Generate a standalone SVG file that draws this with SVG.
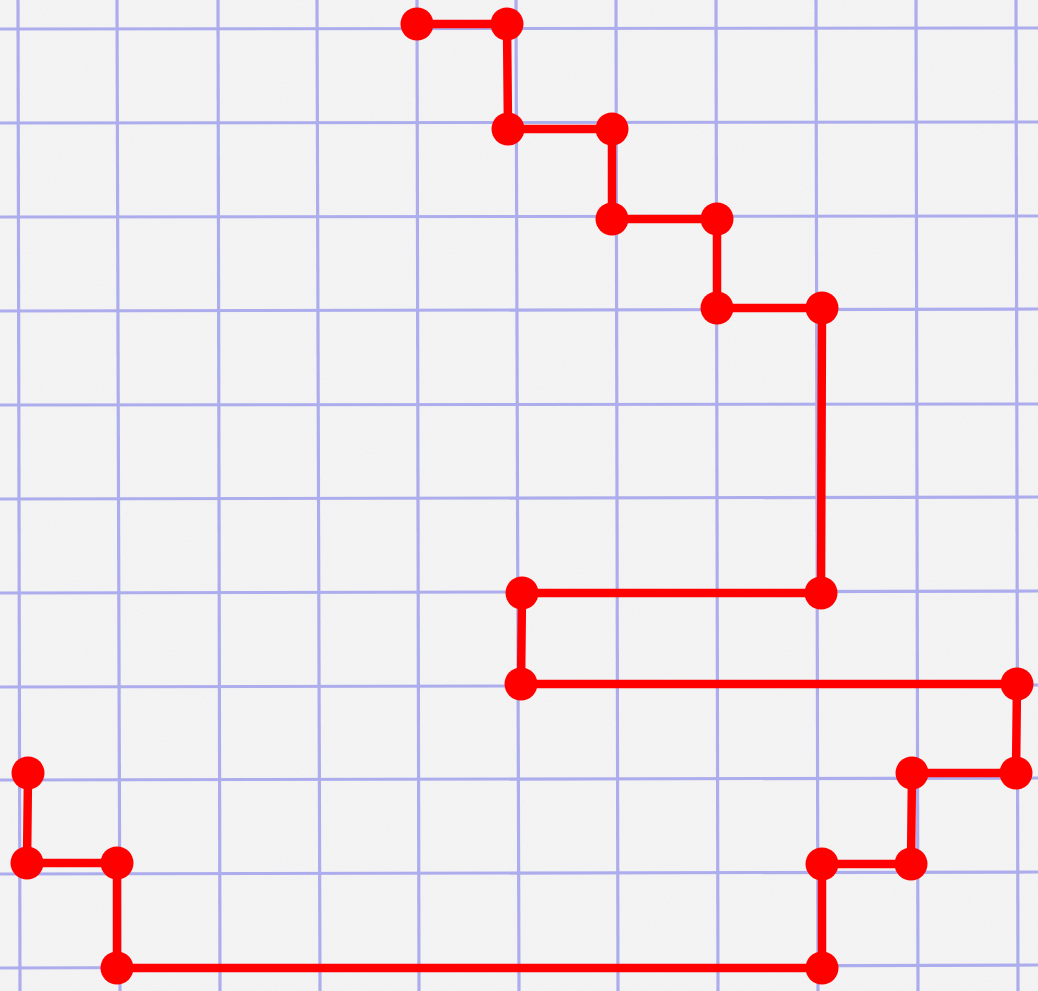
<svg xmlns="http://www.w3.org/2000/svg" width="1038" height="991" viewBox="0 0 1038 991">
  <defs>
    <filter id="paper" x="0" y="0" width="100%" height="100%">
      <feTurbulence type="fractalNoise" baseFrequency="0.6" numOctaves="2" seed="3" result="n"/>
      <feColorMatrix in="n" type="matrix" values="0 0 0 0 0.55  0 0 0 0 0.55  0 0 0 0 0.58  0 0 0 0.10 0"/>
    </filter>
    <filter id="soft" x="-1%" y="-1%" width="102%" height="102%">
      <feGaussianBlur stdDeviation="0.6"/>
    </filter>
  </defs>
  <style>
    .grid line { stroke: #adadee; stroke-width: 3.2; }
    .path { fill: none; stroke: #ff0000; stroke-width: 8.5; stroke-linejoin: round; }
    .dot { fill: #ff0000; }
  </style>
  <rect width="1038" height="991" fill="#f5f5f6"/>
  <rect width="1038" height="991" filter="url(#paper)"/>
  <g class="grid" id="grid" filter="url(#soft)">
    <line x1="18" y1="0" x2="20" y2="991"/>
    <line x1="117" y1="0" x2="120" y2="991"/>
    <line x1="218" y1="0" x2="220" y2="991"/>
    <line x1="317" y1="0" x2="320" y2="991"/>
    <line x1="417" y1="0" x2="419" y2="991"/>
    <line x1="516" y1="0" x2="519" y2="991"/>
    <line x1="616" y1="0" x2="618" y2="991"/>
    <line x1="716" y1="0" x2="718" y2="991"/>
    <line x1="816" y1="0" x2="818" y2="991"/>
    <line x1="916" y1="0" x2="918" y2="991"/>
    <line x1="1016" y1="0" x2="1018" y2="991"/>
    <line x1="0" y1="29" x2="1038" y2="28"/>
    <line x1="0" y1="123" x2="1038" y2="122"/>
    <line x1="0" y1="217" x2="1038" y2="216"/>
    <line x1="0" y1="311" x2="1038" y2="309"/>
    <line x1="0" y1="405" x2="1038" y2="404"/>
    <line x1="0" y1="499" x2="1038" y2="497"/>
    <line x1="0" y1="593" x2="1038" y2="591"/>
    <line x1="0" y1="687" x2="1038" y2="685"/>
    <line x1="0" y1="780" x2="1038" y2="778"/>
    <line x1="0" y1="874" x2="1038" y2="872"/>
    <line x1="0" y1="968" x2="1038" y2="965"/>
  </g>
  <g id="connectors">
    <polyline class="path" points="417,24 507,24 508,129 612,129 612,219 717,219 717,308 822,308 821,593 522,593 521,684 1017,684 1016,773 912,773 911,864 822,864 822,968 117,968 117,863 27,863 28,773"/>
  </g>
  <g id="dots">
    <circle class="dot" cx="417" cy="24" r="16.5"/>
    <circle class="dot" cx="507" cy="24" r="16.5"/>
    <circle class="dot" cx="508" cy="129" r="16.5"/>
    <circle class="dot" cx="612" cy="129" r="16.5"/>
    <circle class="dot" cx="612" cy="219" r="16.5"/>
    <circle class="dot" cx="717" cy="219" r="16.5"/>
    <circle class="dot" cx="717" cy="308" r="16.5"/>
    <circle class="dot" cx="822" cy="308" r="16.5"/>
    <circle class="dot" cx="821" cy="593" r="16.5"/>
    <circle class="dot" cx="522" cy="593" r="16.5"/>
    <circle class="dot" cx="521" cy="684" r="16.5"/>
    <circle class="dot" cx="1017" cy="684" r="16.5"/>
    <circle class="dot" cx="1016" cy="773" r="16.5"/>
    <circle class="dot" cx="912" cy="773" r="16.5"/>
    <circle class="dot" cx="911" cy="864" r="16.5"/>
    <circle class="dot" cx="822" cy="864" r="16.5"/>
    <circle class="dot" cx="822" cy="968" r="16.5"/>
    <circle class="dot" cx="117" cy="968" r="16.5"/>
    <circle class="dot" cx="117" cy="863" r="16.5"/>
    <circle class="dot" cx="27" cy="863" r="16.5"/>
    <circle class="dot" cx="28" cy="773" r="16.5"/>
  </g>
</svg>
